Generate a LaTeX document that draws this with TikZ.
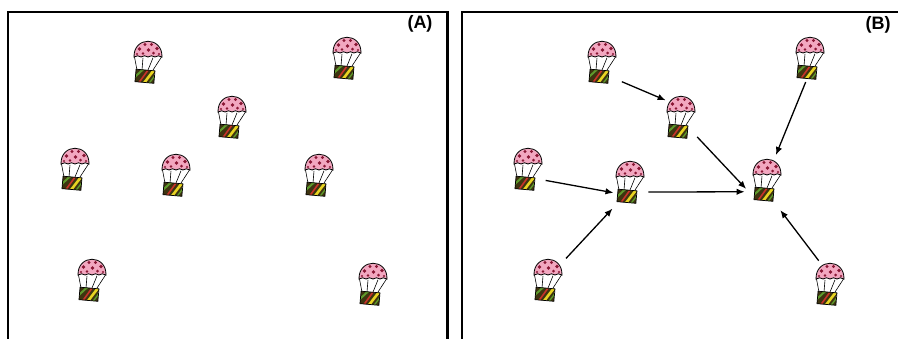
\documentclass[tikz,border=0pt]{standalone}
\usepackage{fontspec}
\setmainfont{Liberation Sans}
\usetikzlibrary{arrows.meta}
\definecolor{canopy}{HTML}{F2A7C0}
\definecolor{dotred}{HTML}{8A1634}
\definecolor{crate}{HTML}{3E3410}
\definecolor{stripeY}{HTML}{E8D422}
\definecolor{stripeG}{HTML}{5E9A2C}
\definecolor{stripeR}{HTML}{C8322A}
\begin{document}
\begin{tikzpicture}[x=1pt,y=-1pt,
  frame/.style={line width=2.4pt},
  tag/.style={font=\bfseries\fontsize{18}{18}\selectfont},
  spot/.style={circle, minimum size=44pt, inner sep=0pt},
  arr/.style={-{Latex[length=8pt,width=6.5pt]}, line width=1.3pt},
  chute/.pic={
    % suspension lines
    \draw[line width=0.6pt] (-13.5,0) -- (-11,13) (-5,0.8) -- (-6,13)
      (5,0.8) -- (0,13) (13.5,0) -- (5,13);
    % dome canopy with a slightly scalloped hem
    \filldraw[fill=canopy, line width=0.8pt]
      (-14,0) .. controls (-14.5,-21) and (14.5,-21) .. (14,0)
      .. controls (11.5,-1.6) and (9,-1.6) .. (7,0)
      .. controls (5,-1.6) and (2,-1.6) .. (0,0)
      .. controls (-2,-1.6) and (-5,-1.6) .. (-7,0)
      .. controls (-9,-1.6) and (-11.5,-1.6) .. (-14,0) -- cycle;
    \fill[dotred] (-8.5,-8) circle (1.8) (-3,-12.5) circle (1.7) (3.5,-12.5) circle (1.7)
      (9,-8.5) circle (1.8) (0.5,-7) circle (1.9) (-5,-3.5) circle (1.4)
      (5.5,-4) circle (1.5) (11,-3) circle (1.2) (-11,-3) circle (1.2);
    % crate with coloured stripes
    \begin{scope}[rotate around={-5:(-3,19)}]
      \begin{scope}
        \clip (-12.5,13) rectangle (6.5,25.5);
        \fill[crate] (-12.5,13) rectangle (6.5,25.5);
        \draw[stripeG, line width=2pt] (-14,22) -- (-5,12);
        \draw[stripeR, line width=1.6pt] (-9,27) -- (0,12);
        \draw[stripeY, line width=2.6pt] (-4,27) -- (5,13);
        \draw[stripeG, line width=1.4pt] (1,27) -- (8,16);
      \end{scope}
      \draw[line width=0.7pt] (-12.5,13) rectangle (6.5,25.5);
    \end{scope}
  }
]
\useasboundingbox (0,0) rectangle (898,338);

% panel frames
\draw[frame] (7.8,345) -- (7.8,12.2) -- (447.5,12.2) -- (447.5,345);
\draw[frame] (461.8,345) -- (461.8,12.2) -- (905,12.2);
\node[tag] (labA) at (420,24) {(A)};
\node[tag] (labB) at (878,25) {(B)};

% panel A: scattered parachutes
\foreach \n/\p in {a1/{(146,63)}, a2/{(345,59)}, a3/{(230,118)}, a4/{(73,170)},
                   a5/{(174,176)}, a6/{(317,176)}, a7/{(90,281)}, a8/{(371,285)}}
  \node[spot] (\n) at \p {};
% panel B: parachutes converging on a hub
\foreach \n/\p in {b1/{(600,63)}, b2/{(808,59)}, b3/{(679,118)}, b4/{(526,170)},
                   b5/{(628,183)}, hub/{(765,181)}, b7/{(546,281)}, b8/{(828,285)}}
  \node[spot] (\n) at \p {};

\foreach \n in {a1,a2,a3,a4,a5,a6,a7,a8,b1,b2,b3,b4,b5,hub,b7,b8}
  \pic at ([shift={(2,-6)}]\n.center) {chute};

% arrows
\draw[arr, shorten <=7pt] (b1.-46) -- (b3.127);
\draw[arr, shorten <=4pt, shorten >=-4pt] (b3.-46) -- (hub.-167);
\draw[arr, shorten <=1pt, shorten >=6pt] (b2.-95) -- (hub.67);
\draw[arr, shorten <=4pt, shorten >=11pt] (b8.108) -- (hub.-67);
\draw[arr, shorten >=-6pt] (b4.-28) -- (b5.-157);
\draw[arr, shorten <=8pt, shorten >=8pt] (b7.49) -- (b5.-117);
\draw[arr, shorten >=1pt] (b5.-24) -- (hub.-151);
\end{tikzpicture}
\end{document}
